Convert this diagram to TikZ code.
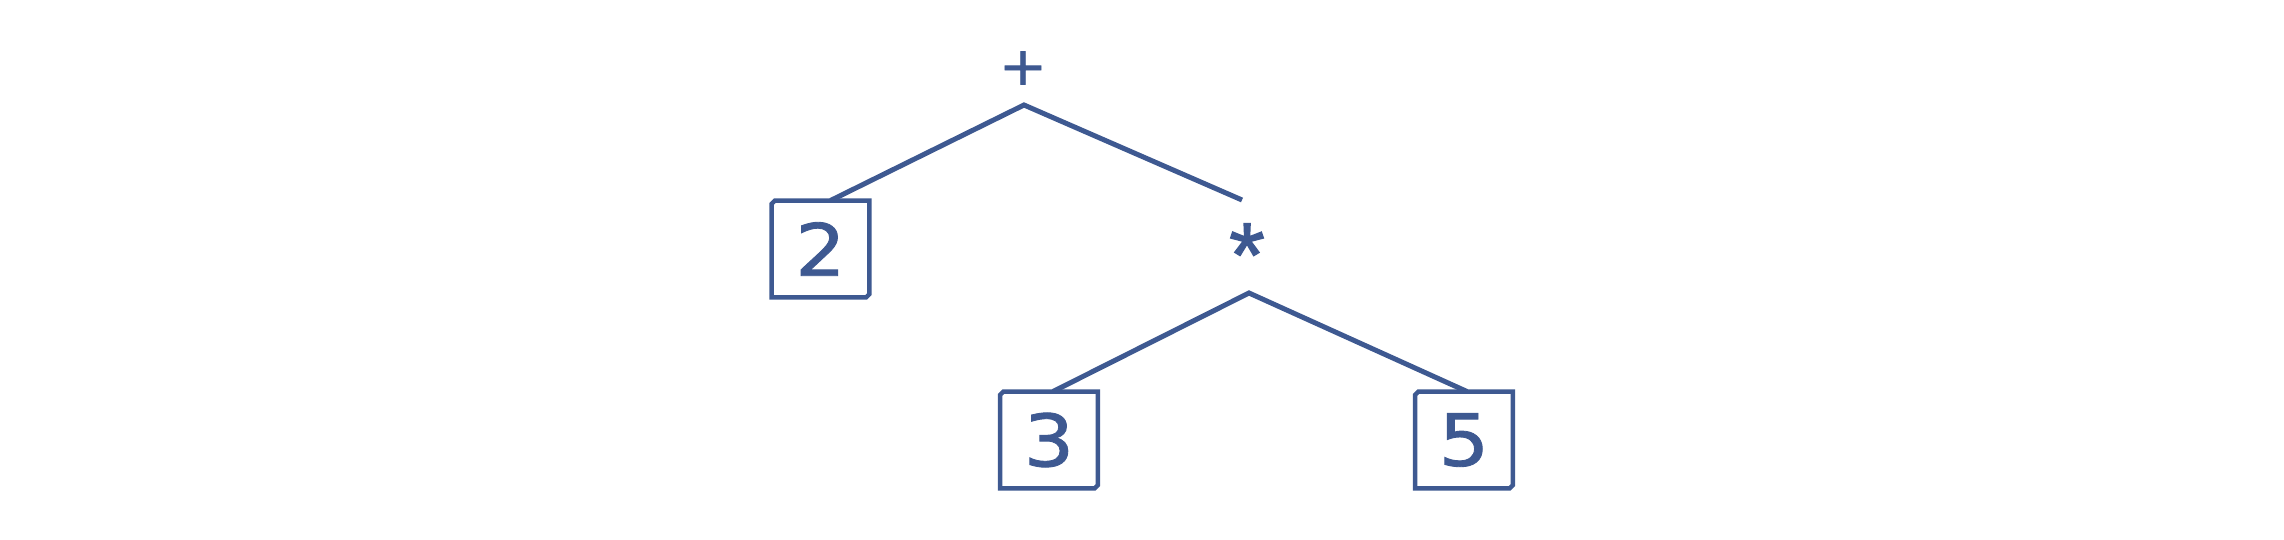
\documentclass[tikz,border=0pt]{standalone}
\usepackage{fontspec}
\setmainfont{DejaVu Sans}
\newfontfamily\labelfont{DejaVu Sans}[FakeBold=1.2, FakeStretch=1.1]
\newfontfamily\astfont{Liberation Sans}[FakeBold=1.5]
\definecolor{treeblue}{RGB}{62,89,145}
\tikzset{
  edge/.style={draw=treeblue, line width=0.05cm},
  boxline/.style={draw=treeblue, line width=0.045cm},
  leafbox/.style={rectangle, minimum width=0.965cm, minimum height=0.955cm, inner sep=0pt,
    text=treeblue, font=\labelfont\fontsize{20.5}{24}\selectfont},
  opnode/.style={text=treeblue, inner sep=0pt, font=\labelfont\fontsize{15}{17}\selectfont}
}
\newcommand{\chamferbox}[1]{%
  \draw[boxline] ([yshift=-0.035cm]#1.north west) -- ([xshift=0.035cm]#1.north west)
    -- (#1.north east) -- ([yshift=0.035cm]#1.south east)
    -- ([xshift=-0.035cm]#1.south east) -- (#1.south west) -- cycle;}
\begin{document}
\begin{tikzpicture}[x=0.01cm, y=-0.01cm]
\useasboundingbox (0,0) rectangle (2284,540);
\node[opnode] (plus) at (1023,68) {+};
\node[opnode, font=\astfont\fontsize{26}{28}\selectfont] (times) at (1247,255) {*};
\node[leafbox] (two) at (820.5,249) {2};
\node[leafbox] (three) at (1049,440) {3};
\node[leafbox] (five) at (1464,440) {5};
\chamferbox{two}
\chamferbox{three}
\chamferbox{five}
\coordinate (apexA) at (1024,105);
\coordinate (freeR) at (1242,200);
\coordinate (apexB) at (1249,293);
\draw[edge] ([xshift=0.1cm]two.north) -- (apexA) -- (freeR);
\draw[edge] ([xshift=0.04cm]three.north) -- (apexB) -- ([xshift=0.03cm]five.north);
\end{tikzpicture}
\end{document}
